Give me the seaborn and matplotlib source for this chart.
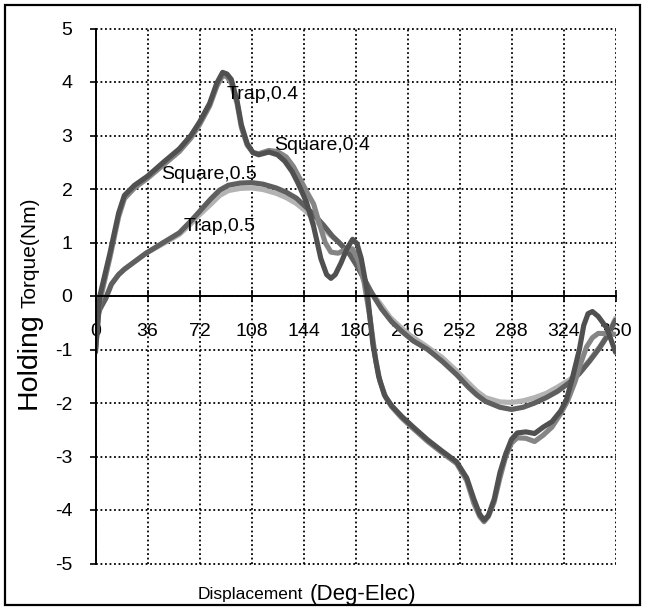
import matplotlib
matplotlib.use("Agg")
import matplotlib.pyplot as plt
from matplotlib.patches import Rectangle
import numpy as np
import pandas as pd
import seaborn as sns

# ---------------- data ----------------
trap04_x = [0, 3, 10, 16, 20, 27, 36, 47, 58, 66, 72, 79, 84, 88, 91, 94, 98, 101, 105, 109,
            113, 120, 126, 131, 136, 140, 146, 151, 156, 160, 163, 166, 170, 174, 178, 181,
            184, 188, 192, 196, 200, 205, 212, 220, 230, 240, 250, 257, 262, 266, 269, 272,
            276, 280, 284, 288, 292, 298, 304, 310, 316, 322, 326, 330, 335, 338, 341, 344,
            348, 354, 360]
trap04_y = [-1.05, 0.0, 0.80, 1.55, 1.88, 2.07, 2.24, 2.50, 2.75, 3.0, 3.25, 3.6, 3.98, 4.18,
            4.15, 4.05, 3.65, 3.2, 2.85, 2.68, 2.64, 2.69, 2.64, 2.52, 2.33, 2.12, 1.76, 1.30,
            0.70, 0.40, 0.33, 0.40, 0.62, 0.88, 1.06, 0.98, 0.70, 0.10, -0.9, -1.50, -1.85,
            -2.05, -2.25, -2.45, -2.69, -2.90, -3.10, -3.40, -3.80, -4.08, -4.19, -4.10, -3.80,
            -3.30, -2.95, -2.68, -2.56, -2.54, -2.57, -2.45, -2.35, -2.15, -1.94, -1.55, -1.0,
            -0.55, -0.33, -0.29, -0.38, -0.60, -1.05]

square04_x = [0, 3, 10, 16, 20, 27, 36, 47, 58, 66, 72, 79, 84, 88, 91, 94, 98, 101, 105, 109,
              113, 120, 126, 132, 137, 141, 146, 151, 155, 159, 163, 168, 174, 178, 182, 186,
              190, 194, 197, 201, 205, 212, 220, 230, 240, 250, 257, 262, 266, 269, 272, 276,
              280, 284, 288, 292, 298, 304, 310, 316, 322, 327, 332, 336, 340, 344, 348, 356,
              360]
square04_y = [-1.0, -0.1, 0.72, 1.48, 1.82, 2.02, 2.20, 2.45, 2.70, 2.95, 3.2, 3.55, 3.92, 4.12,
              4.10, 3.98, 3.6, 3.15, 2.82, 2.68, 2.66, 2.72, 2.70, 2.60, 2.42, 2.22, 1.96, 1.72,
              1.35, 1.0, 0.82, 0.80, 0.88, 0.88, 0.65, 0.25, -0.4, -1.2, -1.6, -1.9, -2.07,
              -2.28, -2.48, -2.72, -2.93, -3.13, -3.45, -3.88, -4.12, -4.22, -4.12, -3.85, -3.4,
              -3.0, -2.75, -2.65, -2.66, -2.72, -2.60, -2.45, -2.2, -1.95, -1.6, -1.25, -0.95,
              -0.78, -0.70, -0.70, -0.72]

trap05_x = [0, 3, 7, 11, 16, 20, 28, 35, 47, 58, 66, 72, 80, 86, 92, 100, 108, 116, 125, 132,
            139, 145, 152, 158, 162, 168, 174, 180, 185, 190, 197, 204, 211, 218, 228, 240,
            250, 258, 264, 270, 280, 288, 296, 304, 312, 320, 328, 335, 342, 349, 355, 360]
trap05_y = [-0.45, -0.22, -0.05, 0.22, 0.40, 0.50, 0.66, 0.80, 0.98, 1.15, 1.35, 1.52, 1.72,
            1.88, 1.97, 2.01, 2.02, 1.99, 1.92, 1.84, 1.73, 1.60, 1.42, 1.26, 1.15, 1.02, 0.86,
            0.62, 0.38, 0.10, -0.14, -0.40, -0.58, -0.74, -0.92, -1.15, -1.40, -1.62, -1.78,
            -1.90, -1.98, -1.99, -1.96, -1.90, -1.82, -1.70, -1.57, -1.42, -1.20, -0.95, -0.70,
            -0.42]

square05_x = [0, 3, 7, 11, 16, 20, 28, 35, 47, 58, 66, 72, 80, 86, 92, 100, 108, 116, 125, 132,
              139, 145, 152, 158, 164, 170, 176, 181, 186, 192, 198, 205, 212, 220, 230, 240,
              250, 258, 264, 270, 280, 288, 296, 304, 312, 320, 328, 335, 342, 349, 355, 360]
square05_y = [-0.50, -0.25, -0.05, 0.22, 0.40, 0.50, 0.66, 0.80, 1.00, 1.18, 1.40, 1.58, 1.82,
              1.98, 2.07, 2.11, 2.12, 2.09, 2.02, 1.94, 1.83, 1.68, 1.50, 1.32, 1.12, 0.96, 0.78,
              0.56, 0.32, 0.02, -0.24, -0.48, -0.66, -0.84, -1.00, -1.22, -1.47, -1.70, -1.85,
              -1.97, -2.08, -2.12, -2.08, -2.00, -1.90, -1.78, -1.62, -1.45, -1.22, -0.97, -0.72,
              -0.45]

series_names = ["Trap,0.5", "Square,0.5", "Square,0.4", "Trap,0.4"]
series_colors = ["#b3b3b3", "#5f5f5f", "#858585", "#505050"]

label_text = ["Trap,0.4", "Square,0.4", "Square,0.5", "Trap,0.5"]
label_x = [115.6, 156.8, 78.6, 85.7]
label_y = [3.76, 2.81, 2.28, 1.30]

x_ticks = list(range(0, 361, 36))
y_ticks = list(range(-5, 6))

# ---------------- build long table ----------------
frames = []
for name, xs, ys in [("Trap,0.5", trap05_x, trap05_y),
                     ("Square,0.5", square05_x, square05_y),
                     ("Square,0.4", square04_x, square04_y),
                     ("Trap,0.4", trap04_x, trap04_y)]:
    d = pd.DataFrame({"x": xs, "y": ys})
    d["series"] = name
    frames.append(d)
df = pd.concat(frames, ignore_index=True)

sns.set_theme(style="white")
plt.rcParams["font.family"] = ["Liberation Sans", "DejaVu Sans"]

W, H = 645, 609
fig = plt.figure(figsize=(W / 100, H / 100), dpi=100)
ax = fig.add_axes([95.5 / W, 1 - 563.5 / H, 520 / W, 535 / H])

sns.lineplot(data=df, x="x", y="y", hue="series", hue_order=series_names,
             palette=dict(zip(series_names, series_colors)), sort=False,
             estimator=None, units="series", linewidth=3.7, ax=ax, legend=False,
             solid_joinstyle="round", solid_capstyle="round")

ax.set_xlim(0, 360)
ax.set_ylim(-5, 5)
ax.set_xticks(x_ticks)
ax.set_yticks(y_ticks)
ax.set_xticklabels([str(v) for v in x_ticks])
ax.set_yticklabels([str(v) for v in y_ticks])
ax.grid(True, color="black", linestyle=(0, (1, 1.5)), linewidth=1.3)
ax.set_axisbelow(True)
for gl in ax.get_xgridlines() + ax.get_ygridlines():
    gl.set_clip_on(False)

for s in ["top", "right"]:
    ax.spines[s].set_visible(False)
ax.spines["bottom"].set_position(("data", 0))
ax.spines["bottom"].set_color("black")
ax.spines["bottom"].set_linewidth(1.4)
ax.spines["left"].set_color("black")
ax.spines["left"].set_linewidth(1.4)

ax.tick_params(axis="x", direction="inout", length=9, width=1.2, color="black",
               labelsize=14, pad=15, bottom=True, labelcolor="black")
ax.tick_params(axis="y", direction="out", length=4.5, width=1.2, color="black",
               labelsize=14, pad=12, left=True, labelcolor="black")
ax.set_xlabel("")
ax.set_ylabel("")

for t, x, y in zip(label_text, label_x, label_y):
    ax.text(x, y, t, fontsize=14, ha="center", va="center", color="black")

# axis titles in mixed sizes, placed one after the other on a shared baseline
renderer = fig.canvas.get_renderer()
hold = fig.text(36 / W, 1 - 409 / H, "Holding", rotation=90, rotation_mode="anchor",
                ha="left", va="baseline", fontsize=20.5, color="black")
hb = hold.get_window_extent(renderer)
fig.text(36 / W, (hb.y1 + 4) / H, "Torque(Nm)", rotation=90, rotation_mode="anchor",
         ha="left", va="baseline", fontsize=15, color="black")

disp = fig.text(198 / W, 1 - 599 / H, "Displacement", ha="left", va="baseline",
                fontsize=12.5, color="black")
db = disp.get_window_extent(renderer)
fig.text((db.x1 + 6) / W, 1 - 600 / H, "(Deg-Elec)", ha="left", va="baseline",
         fontsize=16, color="black")

fig.add_artist(Rectangle((5 / W, 4 / H), 635 / W, 600 / H, transform=fig.transFigure,
                         fill=False, edgecolor="black", linewidth=1.6))

fig.savefig("out.png", dpi=100)
